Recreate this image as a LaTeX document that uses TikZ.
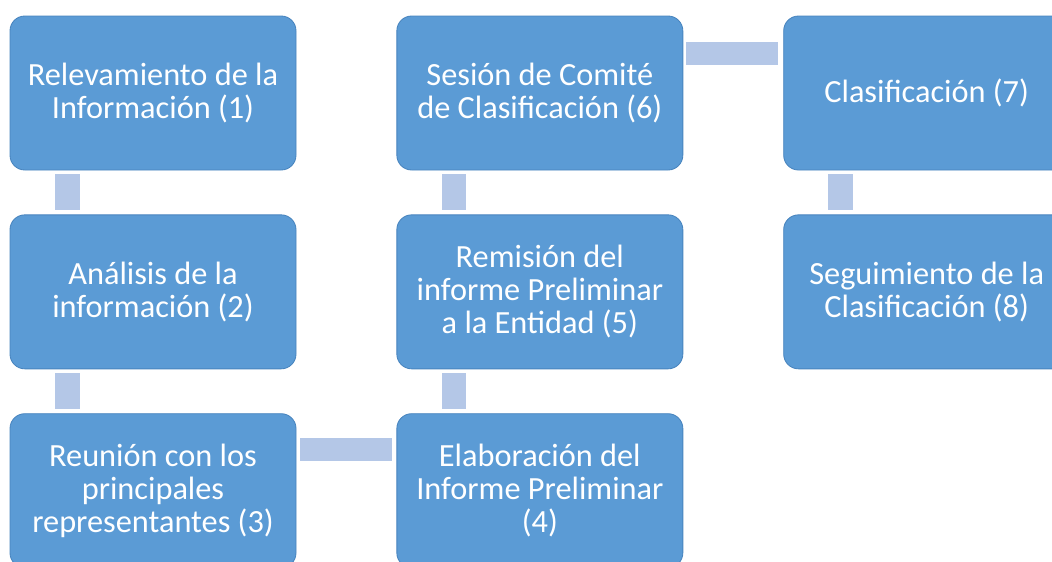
\documentclass[tikz,border=0pt]{standalone}
\usepackage{fontspec}
\setmainfont{Carlito}
\usepackage{xcolor}
\usepackage{tikz}
\usetikzlibrary{positioning}
\definecolor{boxblue}{RGB}{91,155,213}
\definecolor{boxedge}{RGB}{72,132,190}
\definecolor{linkblue}{RGB}{180,199,231}

\begin{document}
\begin{tikzpicture}[
    node distance=1.1cm and 2.5cm,
    stage/.style={rectangle, draw=boxedge, line width=0.6pt, fill=boxblue, rounded corners=0.37cm, minimum width=7.15cm, minimum height=3.85cm, align=center, text=white, font=\fontsize{23}{23.5}\selectfont},
    link/.style={fill=linkblue}
]

\clip (0,0) rectangle (26.3,-14.025);
\useasboundingbox (0,0) rectangle (26.3,-14.025);

% Column 1
\node[stage] (s1) at (3.825,-2.325) {Relevamiento de la\\Información (1)};
\node[stage, below=of s1] (s2) {Análisis de la\\información (2)};
\node[stage, below=of s2] (s3) {Reunión con los\\principales\\representantes (3)};

% Column 2
\node[stage, right=of s3] (s4) {Elaboración del\\Informe Preliminar\\(4)};
\node[stage, above=of s4] (s5) {Remisión del\\informe Preliminar\\a la Entidad (5)};
\node[stage, above=of s5] (s6) {Sesión de Comité\\de Clasificación (6)};

% Column 3
\node[stage, right=of s6] (s7) {Clasificación (7)};
\node[stage, below=of s7] (s8) {Seguimiento de la\\Clasificación (8)};

% Connectors
\fill[link] ([xshift=1.13cm, yshift=-0.1cm]s1.south west) rectangle ([xshift=1.75cm, yshift=0.1cm]s2.north west);
\fill[link] ([xshift=1.13cm, yshift=-0.1cm]s2.south west) rectangle ([xshift=1.75cm, yshift=0.1cm]s3.north west);
\fill[link] ([xshift=0.08cm, yshift=-0.62cm]s3.north east) rectangle ([xshift=-0.12cm, yshift=-1.2cm]s4.north west);
\fill[link] ([xshift=1.13cm, yshift=0.1cm]s4.north west) rectangle ([xshift=1.75cm, yshift=-0.1cm]s5.south west);
\fill[link] ([xshift=1.13cm, yshift=0.1cm]s5.north west) rectangle ([xshift=1.75cm, yshift=-0.1cm]s6.south west);
\fill[link] ([xshift=0.08cm, yshift=-0.65cm]s6.north east) rectangle ([xshift=-0.12cm, yshift=-1.23cm]s7.north west);
\fill[link] ([xshift=1.13cm, yshift=-0.1cm]s7.south west) rectangle ([xshift=1.75cm, yshift=0.1cm]s8.north west);

\end{tikzpicture}
\end{document}
